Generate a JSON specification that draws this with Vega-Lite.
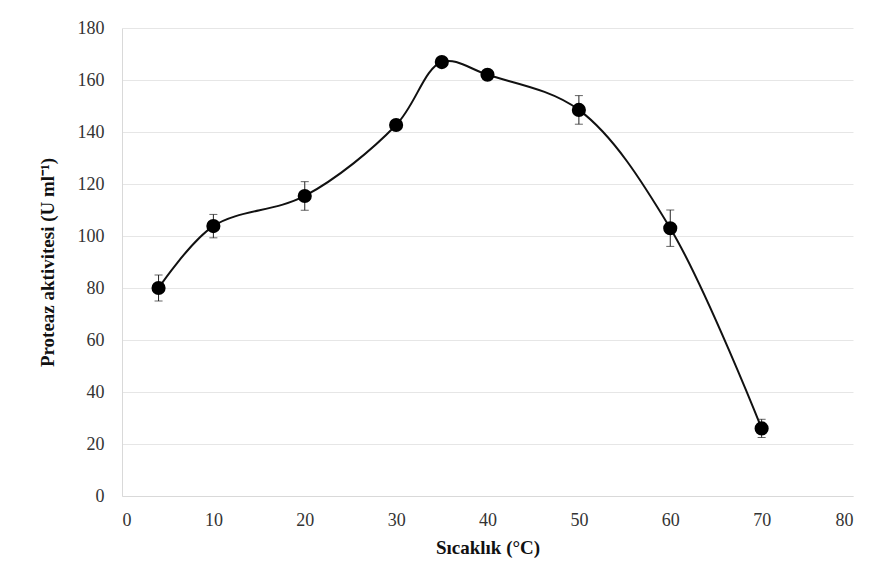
{
  "$schema": "https://vega.github.io/schema/vega-lite/v6.json",
  "width": 731,
  "height": 468,
  "autosize": {"type": "none"},
  "padding": {"left": 122, "top": 28, "right": 22, "bottom": 82},
  "background": "white",
  "config": {
    "view": {"stroke": null},
    "font": "Liberation Serif",
    "axis": {
      "labelFont": "Liberation Serif",
      "titleFont": "Liberation Serif",
      "labelFontSize": 18,
      "titleFontSize": 19,
      "labelColor": "#333333",
      "titleColor": "#111111",
      "domainColor": "#d9d9d9",
      "gridColor": "#e6e6e6",
      "ticks": false
    }
  },
  "data": {
    "values": [
      {"temp": 4, "act": 80, "err": 5},
      {"temp": 10, "act": 103.8, "err": 4.5},
      {"temp": 20, "act": 115.4, "err": 5.5},
      {"temp": 30, "act": 142.7, "err": 1.2},
      {"temp": 35, "act": 166.9, "err": 1},
      {"temp": 40, "act": 162, "err": 1},
      {"temp": 50, "act": 148.5, "err": 5.5},
      {"temp": 60, "act": 103, "err": 7},
      {"temp": 70, "act": 26, "err": 3.5}
    ]
  },
  "transform": [
    {"calculate": "datum.act - datum.err", "as": "lo"},
    {"calculate": "datum.act + datum.err", "as": "hi"}
  ],
  "encoding": {
    "x": {
      "field": "temp",
      "type": "quantitative",
      "scale": {"domain": [0, 80], "nice": false},
      "axis": {
        "title": "Sıcaklık (°C)",
        "values": [0, 10, 20, 30, 40, 50, 60, 70, 80],
        "grid": false,
        "labelPadding": 15,
        "titlePadding": 9
      }
    }
  },
  "layer": [
    {
      "mark": {"type": "line", "interpolate": "catmull-rom", "color": "#111111", "strokeWidth": 2},
      "encoding": {
        "y": {
          "field": "act",
          "type": "quantitative",
          "scale": {"domain": [0, 180], "nice": false},
          "axis": {
            "title": "Proteaz aktivitesi (U ml⁻¹)",
            "values": [0, 20, 40, 60, 80, 100, 120, 140, 160, 180],
            "labelPadding": 18,
            "titlePadding": 20
          }
        }
      }
    },
    {
      "mark": {"type": "rule", "color": "#222222", "strokeWidth": 1},
      "encoding": {
        "y": {"field": "lo", "type": "quantitative"},
        "y2": {"field": "hi"}
      }
    },
    {
      "mark": {"type": "tick", "orient": "horizontal", "color": "#222222", "size": 8, "thickness": 1},
      "encoding": {"y": {"field": "lo", "type": "quantitative"}}
    },
    {
      "mark": {"type": "tick", "orient": "horizontal", "color": "#222222", "size": 8, "thickness": 1},
      "encoding": {"y": {"field": "hi", "type": "quantitative"}}
    },
    {
      "mark": {"type": "point", "filled": true, "color": "#000000", "size": 200, "opacity": 1},
      "encoding": {"y": {"field": "act", "type": "quantitative"}}
    }
  ]
}
